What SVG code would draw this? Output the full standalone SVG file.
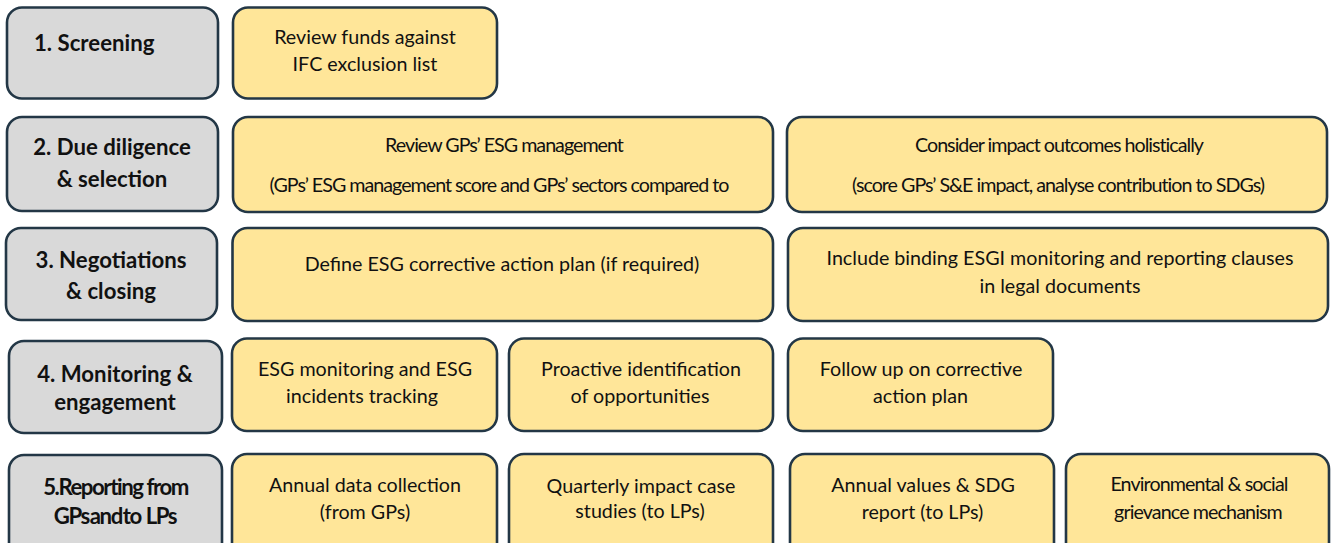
<svg xmlns="http://www.w3.org/2000/svg" width="1333" height="543" viewBox="0 0 1333 543">
<style>
.g{fill:#d9d9d9;stroke:#233746;stroke-width:2.6}
.y{fill:#ffe699;stroke:#233746;stroke-width:2.6}
text{font-family:Lato,"Liberation Sans",sans-serif;fill:#111;text-anchor:middle}
.h{font-weight:bold;font-size:22.2px}
.t{font-size:19.7px}
.c{font-size:19.7px;letter-spacing:-1px}
.e{font-size:19.7px;letter-spacing:-0.9px}
.n{letter-spacing:-1.45px}
</style>
<rect width="1333" height="543" fill="#fff"/>
<g id="connectors"/>
<g id="stage1"><rect class="g" x="7" y="7.5" width="211" height="91" rx="15"/><text class="h" x="34" y="51" style="text-anchor:start">1. Screening</text></g>
<g id="screen1"><rect class="y" x="233" y="7.5" width="264" height="91" rx="15"/><text class="t" x="365" y="43.5">Review funds against</text><text class="t" x="365" y="71">IFC exclusion list</text></g>

<g id="stage2"><rect class="g" x="7" y="117" width="211" height="94" rx="15"/><text class="h" x="112" y="155">2. Due diligence</text><text class="h" x="112" y="187">&amp; selection</text></g>
<g id="dd1"><rect class="y" x="233" y="117" width="540" height="95" rx="15"/><text class="c" x="504" y="152">Review GPs’ ESG management</text><text class="c" x="499" y="192">(GPs’ ESG management score and GPs’ sectors compared to</text></g>
<g id="dd2"><rect class="y" x="787" y="117" width="540" height="95" rx="15"/><text class="c" x="1059" y="152">Consider impact outcomes holistically</text><text class="c" x="1058" y="192">(score GPs’ S&amp;E impact, analyse contribution to SDGs)</text></g>

<g id="stage3"><rect class="g" x="6" y="228" width="211" height="92" rx="15"/><text class="h" x="111" y="268">3. Negotiations</text><text class="h" x="111" y="299">&amp; closing</text></g>
<g id="neg1"><rect class="y" x="232.5" y="228" width="540.5" height="93" rx="15"/><text class="t" x="502" y="270.5">Define ESG corrective action plan (if required)</text></g>
<g id="neg2"><rect class="y" x="788" y="228" width="540" height="93" rx="15"/><text class="t" x="1060" y="265">Include binding ESGI monitoring and reporting clauses</text><text class="t" x="1060" y="292.5">in legal documents</text></g>

<g id="stage4"><rect class="g" x="9" y="341" width="213" height="92" rx="15"/><text class="h" x="115" y="382">4. Monitoring &amp;</text><text class="h" x="115" y="410">engagement</text></g>
<g id="mon1"><rect class="y" x="232" y="338.5" width="265" height="92.5" rx="15"/><text class="t" x="365" y="375.5">ESG monitoring and ESG</text><text class="t" x="362" y="403">incidents tracking</text></g>
<g id="mon2"><rect class="y" x="509" y="338.5" width="264" height="92.5" rx="15"/><text class="t" x="641" y="375.5">Proactive identification</text><text class="t" x="640" y="403">of opportunities</text></g>
<g id="mon3"><rect class="y" x="788" y="338.5" width="265" height="92.5" rx="15"/><text class="t" x="921" y="375.5">Follow up on corrective</text><text class="t" x="920.5" y="403">action plan</text></g>

<g id="stage5"><rect class="g" x="9" y="455" width="213" height="110" rx="15"/><text class="h n" x="115.5" y="495">5.Reporting from</text><text class="h n" x="115" y="524" style="word-spacing:-3px">GPs and to<tspan dx="4"> LPs</tspan></text></g>
<g id="rep1"><rect class="y" x="232" y="454" width="265" height="110" rx="15"/><text class="t" x="365" y="492">Annual  data collection</text><text class="t" x="365" y="519">(from GPs)</text></g>
<g id="rep2"><rect class="y" x="509" y="454" width="264" height="110" rx="15"/><text class="t" x="641" y="493">Quarterly impact case</text><text class="t" x="640" y="518">studies (to LPs)</text></g>
<g id="rep3"><rect class="y" x="790" y="454" width="264" height="110" rx="15"/><text class="t" x="923" y="492">Annual values &amp; SDG</text><text class="t" x="922.5" y="519">report (to LPs)</text></g>
<g id="rep4"><rect class="y" x="1066" y="454" width="263" height="110" rx="15"/><text class="e" x="1199" y="491">Environmental &amp; social</text><text class="e" x="1198" y="519">grievance mechanism</text></g>
</svg>
